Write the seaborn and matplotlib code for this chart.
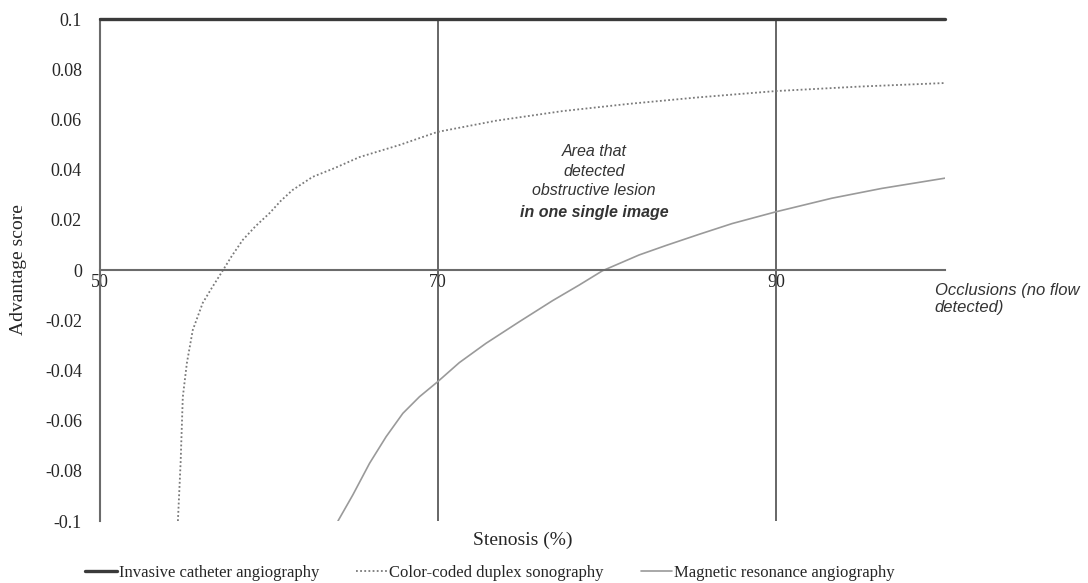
import numpy as np
import pandas as pd
import matplotlib
matplotlib.use("Agg")
import matplotlib.pyplot as plt
import seaborn as sns

# stenosis (%) and advantage score
ica_x = [50, 100]
ica_y = [0.1, 0.1]

cdds_x = [54.61, 54.77, 54.90, 55.14, 55.49, 56.08, 56.61, 57.21, 57.80, 58.45, 59.21, 60.04,
          60.69, 61.40, 62.58, 63.88, 65.36, 67.72, 69.96, 73.45, 77.35, 81.3, 85.26, 90.0, 95.0, 100.0]
cdds_y = [-0.1, -0.0769, -0.0506, -0.0371, -0.0239, -0.0131, -0.0072, -0.0008, 0.0056, 0.0120, 0.0175, 0.0227,
          0.0275, 0.0319, 0.0371, 0.0406, 0.0450, 0.0498, 0.0550, 0.0595, 0.0633, 0.0662, 0.0687, 0.0713, 0.0731, 0.0745]

mra_x = [64.08, 64.96, 65.95, 66.93, 67.92, 68.9, 69.98, 71.26, 72.84, 74.81, 76.78, 78.35, 79.73,
         81.9, 83.5, 85.44, 87.4, 90.0, 93.3, 96.25, 100.0]
mra_y = [-0.1, -0.0896, -0.077, -0.0664, -0.0571, -0.0505, -0.0445, -0.0369, -0.0292, -0.0206, -0.0122, -0.006, -0.0003,
         0.006, 0.0098, 0.0142, 0.0185, 0.0232, 0.0286, 0.0325, 0.0366]

x_ticks = [50, 70, 90]
y_ticks = [-0.1, -0.08, -0.06, -0.04, -0.02, 0, 0.02, 0.04, 0.06, 0.08, 0.1]
y_labels = ["-0.1", "-0.08", "-0.06", "-0.04", "-0.02", "0", "0.02", "0.04", "0.06", "0.08", "0.1"]

series_names = ["Invasive catheter angiography", "Color-coded duplex sonography", "Magnetic resonance angiography"]

sns.set_style("white")
plt.rcParams["font.family"] = ["Liberation Serif", "DejaVu Serif"]

fig = plt.figure(figsize=(10.88, 5.83), dpi=100)
ax = fig.add_axes([0.0919, 0.1063, 0.7767, 0.8611])

# vertical guides at 70 and 90
for xv in [70, 90]:
    ax.axvline(xv, color="#4d4d4d", lw=1.2, zorder=1)

sns.lineplot(x=ica_x, y=ica_y, ax=ax, color="#3a3a3a", lw=2.4,
             label=series_names[0], clip_on=False, zorder=3)
sns.lineplot(x=cdds_x, y=cdds_y, ax=ax, color="#7a7a7a", lw=1.3,
             linestyle=(0, (1, 1.3)), label=series_names[1], zorder=2)
sns.lineplot(x=mra_x, y=mra_y, ax=ax, color="#9a9a9a", lw=1.2,
             label=series_names[2], zorder=2)

ax.set_xlim(50, 100)
ax.set_ylim(-0.1, 0.1)

for s in ["top", "right"]:
    ax.spines[s].set_visible(False)
ax.spines["left"].set_color("#6b6b6b")
ax.spines["left"].set_linewidth(1.5)
ax.spines["bottom"].set_position(("data", 0))
ax.spines["bottom"].set_color("#6b6b6b")
ax.spines["bottom"].set_linewidth(1.5)

ax.set_xticks(x_ticks)
ax.set_xticklabels([str(t) for t in x_ticks], fontsize=13)
ax.set_yticks(y_ticks)
ax.set_yticklabels(y_labels, fontsize=13)
ax.tick_params(axis="x", length=0, pad=3)
ax.tick_params(axis="y", length=0, pad=13)

ax.set_xlabel("Stenosis (%)", fontsize=14)
ax.xaxis.set_label_coords(0.5, -0.022)
ax.set_ylabel("Advantage score", fontsize=14)
ax.yaxis.set_label_coords(-0.086, 0.5)

sans = ["Liberation Sans", "DejaVu Sans"]
ax.text(79.24, 0.0394, "Area that\ndetected\nobstructive lesion", family=sans,
        style="italic", fontsize=11.5, ha="center", va="center",
        linespacing=1.4, color="#333333")
ax.text(79.24, 0.0231, "in one single image", family=sans, style="italic",
        weight="bold", fontsize=11.5, ha="center", va="center", color="#333333")
ax.text(99.4, -0.005, "Occlusions (no flow\ndetected)", family=sans,
        style="italic", fontsize=12, ha="left", va="top", color="#333333",
        clip_on=False)

ax.legend(loc="center", bbox_to_anchor=(0.4504, 0.017), bbox_transform=fig.transFigure,
          ncol=3, frameon=False, fontsize=12, handlelength=1.9,
          handletextpad=0.12, columnspacing=2.2)

fig.savefig("out.png", dpi=100)
